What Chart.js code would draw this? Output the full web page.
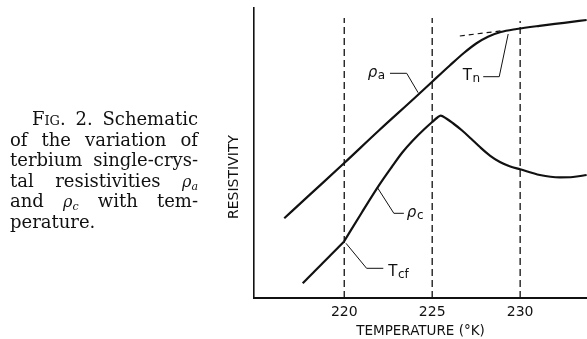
<!DOCTYPE html>
<html lang="en">
<head>
    <meta charset="UTF-8">
    <title>Terbium resistivity schematic</title>
    <script src="https://cdn.jsdelivr.net/npm/chart.js"></script>
    <style>
        html, body {
            margin: 0;
            padding: 0;
            background: #fff;
        }

        .wrap {
            position: relative;
            width: 587px;
            height: 339px;
            overflow: hidden;
        }

        #plot_resistivity {
            position: absolute;
            left: 0;
            top: 0;
        }

        /* Figure caption on the left */
        .caption {
            position: absolute;
            left: 10px;
            top: 109px;
            width: 188px;
            font-family: "DejaVu Serif", serif;
            font-size: 18px;
            line-height: 20.5px;
            color: #111;
        }

        .caption div {
            height: 20.5px;
            text-align: justify;
            text-align-last: justify;
            white-space: nowrap;
        }

        .caption div.first {
            padding-left: 22px;
        }

        .caption div.last {
            text-align-last: left;
        }

        .sc {
            font-variant: small-caps;
        }

        .gr {
            font-style: italic;
            font-size: 16px;
        }

        .gr sub {
            font-size: 11px;
            line-height: 0;
            vertical-align: baseline;
            position: relative;
            top: 3px;
        }
    </style>
</head>
<body>
<div class="wrap">
    <canvas id="plot_resistivity" width="587" height="339"></canvas>

    <div class="caption">
        <div class="first"><span class="sc">Fig</span>. 2. Schematic</div>
        <div>of the variation of</div>
        <div>terbium single-crys-</div>
        <div>tal resistivities <span class="gr">ρ<sub>a</sub></span></div>
        <div>and <span class="gr">ρ<sub>c</sub></span> with tem-</div>
        <div class="last">perature.</div>
    </div>
</div>

<script>
    // temperature axis (°K) and resistivity (arbitrary units)
    const xMin = 214.87;
    const xMax = 233.8;
    const yMin = 0;
    const yMax = 29;
    const xTicks = [220, 225, 230];
    const yTitle = 'RESISTIVITY';
    const yTitleAt = 12.1;

    // rho_a
    const rhoATemp = [216.59, 218, 220, 222, 224, 225, 226, 226.8, 227.5, 228.2, 228.9, 229.8, 231.1, 232.5, 233.78];
    const rhoAVal  = [7.97, 10.26, 13.5, 16.8, 20.0, 21.63, 23.25, 24.5, 25.45, 26.15, 26.6, 26.9, 27.22, 27.52, 27.8];

    // rho_c, below and above the kink at T_cf
    const rhoCLowTemp = [217.64, 219.98];
    const rhoCLowVal  = [1.47, 5.63];
    const rhoCTemp = [219.98, 221.0, 222.0, 222.7, 223.3, 223.9, 224.5, 225.0, 225.3, 225.48, 225.8, 226.2, 226.7, 227.2, 227.7, 228.3, 228.85, 229.4, 230.0, 231.12, 232.26, 233.0, 233.78];
    const rhoCVal  = [5.63, 8.55, 11.33, 13.1, 14.55, 15.75, 16.8, 17.6, 18.05, 18.23, 17.95, 17.45, 16.75, 15.95, 15.12, 14.22, 13.6, 13.18, 12.87, 12.3, 12.07, 12.1, 12.3];

    // tangent at T_n
    const tangentTemp = [226.57, 229.03];
    const tangentVal  = [26.2, 26.74];

    // dashed guide lines
    const guideTemps = [220, 225, 230];
    const guideTops  = [28, 28, 27.7];

    // leader lines for the labels
    const leaderRhoATemp = [222.6, 223.55, 224.2];
    const leaderRhoAVal  = [22.47, 22.47, 20.53];
    const leaderTnTemp = [227.9, 228.81, 229.32];
    const leaderTnVal  = [22.13, 22.13, 26.4];
    const leaderTcfTemp = [220.1, 221.27, 222.22];
    const leaderTcfVal  = [5.47, 2.97, 2.97];
    const leaderRhoCTemp = [221.875, 222.82, 223.39];
    const leaderRhoCVal  = [11.07, 8.47, 8.47];

    // label text: main glyph, subscript, anchor temp, anchor value
    const labelMain = ['ρ', 'T', 'ρ', 'T'];
    const labelSub  = ['a', 'n', 'c', 'cf'];
    const labelTemp = [221.34, 226.74, 223.56, 222.5];
    const labelVal  = [22.5, 22.2, 8.5, 2.63];

    function pts(xs, ys) {
        return xs.map((x, i) => ({ x: x, y: ys[i] }));
    }

    const curveStyle = {
        borderColor: '#111',
        borderWidth: 2.2,
        pointRadius: 0,
        fill: false,
        cubicInterpolationMode: 'monotone',
        tension: 0.4
    };

    const thinStyle = {
        borderColor: '#111',
        borderWidth: 1,
        pointRadius: 0,
        fill: false,
        tension: 0
    };

    const datasets = [];

    guideTemps.forEach((t, i) => {
        datasets.push(Object.assign({}, thinStyle, {
            label: 'guide ' + t,
            data: pts([t, t], [0, guideTops[i]]),
            borderWidth: 1.3,
            borderDash: [7, 4]
        }));
    });

    datasets.push(Object.assign({}, thinStyle, {
        label: 'tangent',
        data: pts(tangentTemp, tangentVal),
        borderWidth: 1.2,
        borderDash: [5, 4]
    }));

    datasets.push(Object.assign({}, curveStyle, { label: 'rho_a', data: pts(rhoATemp, rhoAVal) }));
    datasets.push(Object.assign({}, curveStyle, { label: 'rho_c low', data: pts(rhoCLowTemp, rhoCLowVal), tension: 0, cubicInterpolationMode: 'default' }));
    datasets.push(Object.assign({}, curveStyle, { label: 'rho_c', data: pts(rhoCTemp, rhoCVal) }));

    datasets.push(Object.assign({}, thinStyle, { label: 'lead rho_a', data: pts(leaderRhoATemp, leaderRhoAVal) }));
    datasets.push(Object.assign({}, thinStyle, { label: 'lead Tn', data: pts(leaderTnTemp, leaderTnVal) }));
    datasets.push(Object.assign({}, thinStyle, { label: 'lead Tcf', data: pts(leaderTcfTemp, leaderTcfVal) }));
    datasets.push(Object.assign({}, thinStyle, { label: 'lead rho_c', data: pts(leaderRhoCTemp, leaderRhoCVal) }));

    // draws the curve labels with their subscripts, and the y title
    const labelPlugin = {
        id: 'curveLabels',
        afterDatasetsDraw(chart) {
            const ctx = chart.ctx;
            const xs = chart.scales.x;
            const ys = chart.scales.y;
            ctx.save();
            ctx.fillStyle = '#111';
            ctx.textBaseline = 'middle';
            ctx.textAlign = 'left';
            labelMain.forEach((m, i) => {
                const px = xs.getPixelForValue(labelTemp[i]);
                const py = ys.getPixelForValue(labelVal[i]);
                ctx.font = (m === 'ρ' ? 'italic ' : '') + '15px "DejaVu Sans"';
                ctx.fillText(m, px, py);
                const w = ctx.measureText(m).width;
                ctx.font = '12px "DejaVu Sans"';
                ctx.fillText(labelSub[i], px + w + 0.5, py + 3);
            });

            // y axis title, rotated
            ctx.translate(chart.chartArea.left - 20, ys.getPixelForValue(yTitleAt));
            ctx.rotate(-Math.PI / 2);
            ctx.textAlign = 'center';
            ctx.font = '14px "DejaVu Sans"';
            ctx.fillText(yTitle, 0, 0);
            ctx.restore();
        }
    };

    const ctx = document.getElementById('plot_resistivity').getContext('2d');
    const chartResistivity = new Chart(ctx, {
        type: 'line',
        data: { datasets: datasets },
        plugins: [labelPlugin],
        options: {
            responsive: false,
            animation: false,
            devicePixelRatio: 1,
            layout: { padding: { top: 8, right: 0, bottom: 0, left: 254 } },
            plugins: {
                legend: { display: false },
                tooltip: { enabled: false }
            },
            scales: {
                x: {
                    type: 'linear',
                    min: xMin,
                    max: xMax,
                    afterBuildTicks: (scale) => {
                        scale.ticks = xTicks.map(v => ({ value: v }));
                    },
                    afterFit: (scale) => {
                        scale.height = 41;
                    },
                    grid: { display: false, drawTicks: false },
                    border: { display: true, color: '#111', width: 2 },
                    ticks: {
                        color: '#111',
                        padding: 5.6,
                        font: { family: 'DejaVu Sans', size: 14 },
                        maxRotation: 0
                    },
                    title: {
                        display: true,
                        text: 'TEMPERATURE (°K)',
                        color: '#111',
                        font: { family: 'DejaVu Sans', size: 13.5, lineHeight: 1 },
                        padding: { top: 0, bottom: 0.3 }
                    }
                },
                y: {
                    min: yMin,
                    max: yMax,
                    afterFit: (scale) => {
                        scale.width = 0;
                    },
                    grid: { display: false, drawTicks: false },
                    border: { display: true, color: '#111', width: 1.6 },
                    ticks: { display: false },
                    title: { display: false }
                }
            }
        }
    });
</script>
</body>
</html>
